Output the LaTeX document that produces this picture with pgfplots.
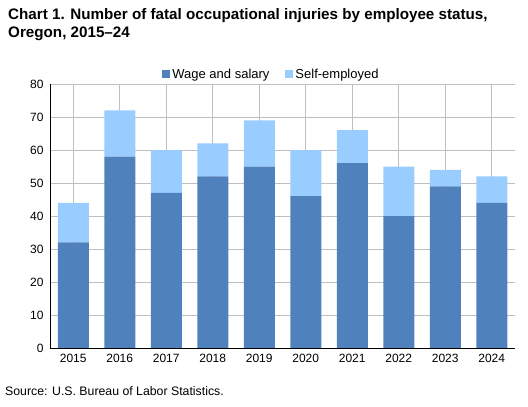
\documentclass[border=0pt]{standalone}
\usepackage{fontspec}
\setmainfont{Liberation Sans}
\usepackage{pgfplots}
\pgfplotsset{compat=1.18}
\definecolor{wage}{RGB}{79,129,189}
\definecolor{self}{RGB}{153,204,255}
\definecolor{grid}{RGB}{217,217,217}
\begin{document}
\begin{tikzpicture}[x=1pt,y=1pt]
\useasboundingbox (0,0) rectangle (528,407);
\node[anchor=base west,font=\bfseries\fontsize{15.2}{18.5}\selectfont,inner sep=0pt] at (8,387) {Chart 1. Number of fatal occupational injuries by employee status,};
\node[anchor=base west,font=\bfseries\fontsize{15.2}{18.5}\selectfont,inner sep=0pt] at (8,369) {Oregon, 2015--24};
\node[anchor=base west,font=\fontsize{12.3}{14}\selectfont,inner sep=0pt] at (5,11) {Source: U.S. Bureau of Labor Statistics.};
\begin{axis}[
  at={(50pt,59pt)}, anchor=south west,
  scale only axis, width=465pt, height=264pt,
  ybar stacked, bar width=31pt,
  xmin=-0.5, xmax=9.5, ymin=0, ymax=80,
  xtick=data,
  xticklabels={2015,2016,2017,2018,2019,2020,2021,2022,2023,2024},
  ytick={0,10,...,80},
  ymajorgrids, grid style={grid, line width=0.8pt},
  axis x line*=bottom, axis y line*=left,
  axis line style={black, line width=0.8pt},
  x axis line style={-}, y axis line style={-},
  major tick length=0pt,
  tick label style={font=\fontsize{12}{14}\selectfont},
  /pgf/number format/assume math mode=true,
  xticklabel style={yshift=-3pt},
  yticklabel style={xshift=-3pt},
  legend style={at={(0.5,1)}, anchor=south, xshift=-11pt, yshift=0pt, draw=none, fill=none,
    legend columns=2, font=\fontsize{13}{14}\selectfont},
  legend image code/.code={\fill[#1] (0pt,-4pt) rectangle (8pt,4pt);},
  legend cell align=left,
]
\addplot[fill=wage, draw=none] coordinates {(0,32) (1,58) (2,47) (3,52) (4,55) (5,46) (6,56) (7,40) (8,49) (9,44)};
\addplot[fill=self, draw=none] coordinates {(0,12) (1,14) (2,13) (3,10) (4,14) (5,14) (6,10) (7,15) (8,5) (9,8)};
\legend{Wage and salary\hspace*{14pt}\mbox{}, Self-employed}
\end{axis}
\end{tikzpicture}
\end{document}
